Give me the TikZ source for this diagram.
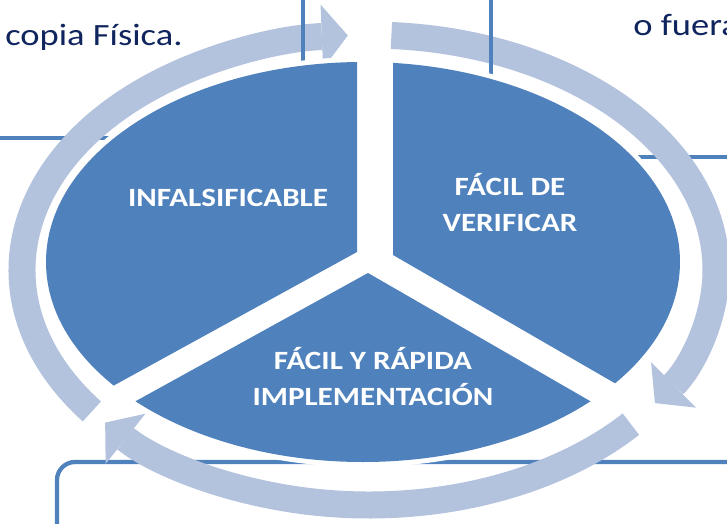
\documentclass[tikz,border=0pt]{standalone}
\usepackage{fontspec}
\setmainfont{Carlito}[FakeStretch=1.18]
\usepackage{xcolor}
\usetikzlibrary{arrows.meta,calc}
\definecolor{pieblue}{RGB}{79,129,189}
\definecolor{ringblue}{RGB}{179,194,221}
\definecolor{slidenavy}{RGB}{16,37,94}

\begin{document}
\begin{tikzpicture}[x=0.02cm,y=-0.02cm,
  cyclearrow/.style={ringblue,line width=0.54cm,
    -{Triangle[width=1.28cm,length=0.52cm,line width=0pt]}},
  boxline/.style={pieblue,line width=0.085cm},
  sectorlabel/.style={text=white,inner sep=0pt,align=center,
    font=\bfseries\fontsize{15}{20.5}\selectfont},
  slidetext/.style={text=slidenavy,inner sep=0pt,anchor=base west,
    font=\fontsize{17.6}{21}\selectfont}]
  \clip (0,0) rectangle (727,524);
  \fill[white] (0,0) rectangle (727,524);

  % Slide boxes behind the cycle
  \draw[boxline] (0,138) -- (120,138);
  \draw[boxline] (600,157) -- (727,157);
  \draw[boxline,fill=white,rounded corners=0.36cm] (57,462) rectangle (780,580);
  \node[slidetext] (copia) at (5,45) {copia Física.};
  \node[slidetext] (fuera) at (633,35) {o fuera};

  % Circular arrows
  \coordinate (cen) at (369,270);
  \draw[cyclearrow] ($(cen)+(143:347 and 235)$)
    arc[start angle=143,end angle=266.5,x radius=347,y radius=235];
  \draw[cyclearrow] ($(cen)+(273.7:347 and 235)$)
    arc[start angle=273.7,end angle=394.5,x radius=347,y radius=235];
  \draw[cyclearrow] ($(cen)+(41:347 and 235)$)
    arc[start angle=41,end angle=139.5,x radius=347,y radius=235];
  \draw[boxline] (303,0) -- (303,80);
  \draw[boxline] (491,0) -- (491,90);

  % Pie with three sectors
  \fill[white] (363,262) ellipse [x radius=322, y radius=205];
  \begin{scope}
    \clip (363,262) ellipse [x radius=317, y radius=200];
    \fill[pieblue] (0,0) -- (357,0) -- (357,252) -- (0,448) -- cycle;
    \fill[pieblue] (393,0) -- (727,0) -- (727,448) -- (393,255) -- cycle;
    \fill[pieblue] (368,273) -- (727,480) -- (727,524) -- (0,524) -- (0,476) -- cycle;
  \end{scope}

  % Labels
  \node[sectorlabel] (infal) at (228,198) {INFALSIFICABLE};
  \node[sectorlabel] (verif) at (510,203) {FÁCIL DE\\VERIFICAR};
  \node[sectorlabel] (impl) at (373,377) {FÁCIL Y RÁPIDA\\IMPLEMENTACIÓN};
\end{tikzpicture}
\end{document}
